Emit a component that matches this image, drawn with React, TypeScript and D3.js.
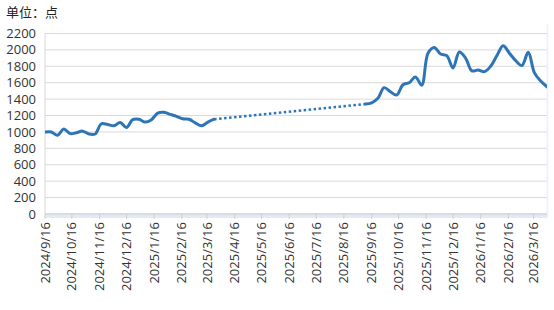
import React from 'react';
import * as d3 from 'd3';

const title = '单位：点';
const yTicks = [0, 200, 400, 600, 800, 1000, 1200, 1400, 1600, 1800, 2000, 2200];
const xTickLabels = [
  '2024/9/16', '2024/10/16', '2024/11/16', '2024/12/16', '2025/1/16', '2025/2/16', '2025/3/16',
  '2025/4/16', '2025/5/16', '2025/6/16', '2025/7/16', '2025/8/16', '2025/9/16', '2025/10/16',
  '2025/11/16', '2025/12/16', '2026/1/16', '2026/2/16', '2026/3/16',
];

const dates1 = [
  '2024-09-16', '2024-09-23', '2024-09-30', '2024-10-07', '2024-10-14', '2024-10-21', '2024-10-28',
  '2024-11-04', '2024-11-11', '2024-11-18', '2024-11-25', '2024-12-02', '2024-12-09', '2024-12-16',
  '2024-12-23', '2024-12-30', '2025-01-06', '2025-01-13', '2025-01-20', '2025-01-27', '2025-02-03',
  '2025-02-10', '2025-02-17', '2025-02-24', '2025-03-03', '2025-03-10', '2025-03-17', '2025-03-24',
];
const values1 = [
  1000, 1000, 960, 1035, 980, 990, 1010, 975, 975, 1100, 1090, 1075, 1115, 1055,
  1150, 1155, 1120, 1150, 1230, 1240, 1215, 1190, 1160, 1155, 1110, 1075, 1120, 1155,
];

const dates2 = [
  '2025-09-09', '2025-09-16', '2025-09-23', '2025-09-30', '2025-10-07', '2025-10-14', '2025-10-21',
  '2025-10-28', '2025-11-04', '2025-11-11', '2025-11-18', '2025-11-25', '2025-12-02', '2025-12-09',
  '2025-12-16', '2025-12-23', '2025-12-30', '2026-01-06', '2026-01-13', '2026-01-20', '2026-01-27',
  '2026-02-03', '2026-02-10', '2026-02-17', '2026-02-24', '2026-03-03', '2026-03-10', '2026-03-17',
  '2026-03-24', '2026-03-31',
];
const values2 = [
  1340, 1355, 1410, 1540, 1490, 1450, 1575, 1600, 1670, 1570, 1960, 2030, 1950, 1930,
  1780, 1975, 1900, 1745, 1755, 1735, 1800, 1930, 2050, 1960, 1870, 1810, 1970, 1720,
  1620, 1550,
];

const W = 554;
const H = 310;
const left = 45;
const right = 547;
const top = 33.5;
const bottom = 214;
const font = "'Open Sans', 'Noto Sans CJK SC', sans-serif";
const lineColor = '#2e75b6';

const parse = (s: string) => {
  const [y, m, d] = s.split(/[-/]/).map(Number);
  return new Date(Date.UTC(y, m - 1, d));
};

export default function App() {
  const x = d3.scaleUtc().domain([parse('2024-09-16'), parse('2026-03-31')]).range([left, right]);
  const y = d3.scaleLinear().domain([0, 2200]).range([bottom, top]);

  const pts1 = dates1.map((d, i) => [x(parse(d)), y(values1[i])] as [number, number]);
  const pts2 = dates2.map((d, i) => [x(parse(d)), y(values2[i])] as [number, number]);
  const line = d3.line().curve(d3.curveCatmullRom.alpha(0.5));
  const gap = d3.line()([pts1[pts1.length - 1], pts2[0]]);

  return (
    <svg width={W} height={H} style={{ position: 'absolute', left: 0, top: 0, background: '#fff' }}>
      <defs>
        <clipPath id="plot">
          <rect x={left} y={0} width={right - left} height={bottom + 2} />
        </clipPath>
      </defs>
      <text x={6} y={17} fontFamily={font} fontSize={13} fill="#222">{title}</text>
      {yTicks.map((t) => (
        <g key={t}>
          <line x1={left} x2={right} y1={y(t)} y2={y(t)} stroke="#d9d9d9" strokeWidth={1} />
          <text x={36} y={y(t)} dy="0.35em" textAnchor="end" fontFamily={font} fontSize={13} fill="#333">{t}</text>
        </g>
      ))}
      <line x1={left} x2={left} y1={top} y2={bottom} stroke="#d9d9d9" />
      <line x1={right + 0.5} x2={right + 0.5} y1={top - 10} y2={bottom + 3} stroke="#eef2f8" strokeWidth={2} />
      <rect x={left} y={bottom} width={right - left} height={4} fill="#e2eaf4" />
      <line x1={left} x2={right} y1={bottom} y2={bottom} stroke="#d0d8e2" strokeWidth={1.5} />
      {xTickLabels.map((lab) => {
        const xx = x(parse(lab));
        return (
          <g key={lab}>
            <line x1={xx} x2={xx} y1={bottom} y2={bottom + 5} stroke="#cfcfcf" />
            <text
              transform={`translate(${xx},${bottom + 8}) rotate(-90)`}
              dy="0.35em"
              textAnchor="end"
              fontFamily={font}
              fontSize={13}
              fill="#333"
            >
              {lab}
            </text>
          </g>
        );
      })}
      <g clipPath="url(#plot)">
        <path d={gap ?? ''} fill="none" stroke={lineColor} strokeWidth={2.5} strokeDasharray="2.5 2.5" />
        <path d={line(pts1) ?? ''} fill="none" stroke={lineColor} strokeWidth={3} strokeLinejoin="round" strokeLinecap="round" />
        <path d={line(pts2) ?? ''} fill="none" stroke={lineColor} strokeWidth={3} strokeLinejoin="round" strokeLinecap="round" />
      </g>
    </svg>
  );
}
